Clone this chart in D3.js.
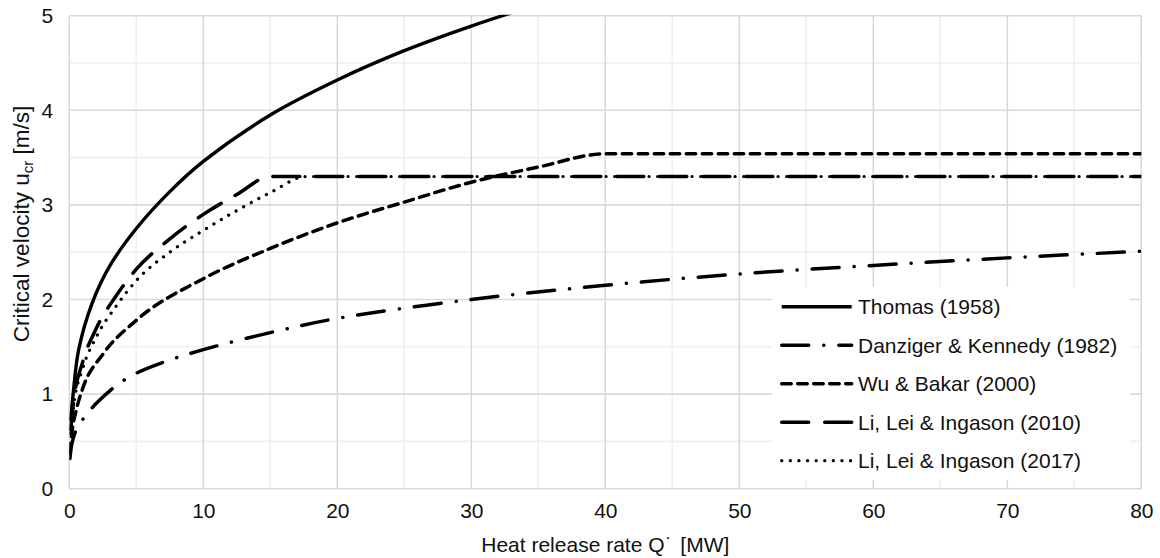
<!DOCTYPE html>
<html>
<head>
<meta charset="utf-8">
<script src="https://cdn.jsdelivr.net/npm/d3@7"></script>
<style>
  html, body { margin: 0; padding: 0; background: #fff; }
  svg { display: block; font-family: "Liberation Sans", Arial, sans-serif; }
</style>
</head>
<body>
<svg id="chart" width="1160" height="558"></svg>
<script>
// Critical velocity correlations vs. heat release rate
const seriesNames = [
  "Thomas (1958)",
  "Danziger & Kennedy (1982)",
  "Wu & Bakar (2000)",
  "Li, Lei & Ingason (2010)",
  "Li, Lei & Ingason (2017)"
];

const thomasQ = [0.1, 0.3, 0.7, 1.7, 3, 5, 7.5, 10, 15, 20, 25, 30, 35];
const thomasU = [0.72, 1.02, 1.47, 1.96, 2.35, 2.75, 3.14, 3.46, 3.95, 4.32, 4.63, 4.89, 5.12];

const dkQ = [0.05, 0.2, 0.57, 1.27, 2, 3.5, 5, 7.5, 10, 15, 20, 30, 40, 50, 60, 70, 80];
const dkU = [0.32, 0.48, 0.64, 0.78, 0.9, 1.09, 1.22, 1.36, 1.47, 1.65, 1.8, 2.0, 2.15, 2.27, 2.36, 2.44, 2.51];

const wuQ = [0.05, 0.2, 0.5, 1, 2.5, 5, 10, 15, 20, 25, 30, 35, 40, 80];
const wuU = [0.38, 0.6, 0.82, 1.06, 1.42, 1.78, 2.22, 2.54, 2.81, 3.03, 3.24, 3.4, 3.54, 3.54];

const li10Q = [0.1, 0.3, 1, 2, 3.5, 5, 7.5, 10, 12.5, 15, 80];
const li10U = [0.62, 0.9, 1.34, 1.69, 2.04, 2.32, 2.64, 2.9, 3.11, 3.3, 3.3];

const li17Q = [0.1, 0.3, 1, 2, 3.5, 5, 7.5, 10, 12.5, 15, 17.7, 80];
const li17U = [0.58, 0.85, 1.27, 1.6, 1.93, 2.2, 2.5, 2.73, 2.94, 3.13, 3.3, 3.3];

const xTicks = [0, 10, 20, 30, 40, 50, 60, 70, 80];
const yTicks = [0, 1, 2, 3, 4, 5];
const xMinor = [5, 15, 25, 35, 45, 55, 65, 75];
const yMinor = [0.5, 1.5, 2.5, 3.5, 4.5];

// line styles per series (solid, long dash-dot, short dash, long dash, round dot)
const styles = [
  { width: 3.4, dash: null, curve: d3.curveCatmullRom.alpha(0.5) },
  { width: 3.5, dash: "27,15,0.1,15", curve: d3.curveCatmullRom.alpha(0.5) },
  { width: 3.5, dash: "9.5,6.5", curve: d3.curveMonotoneX },
  { width: 3.5, dash: "27,16", curve: d3.curveMonotoneX },
  { width: 3.2, dash: "0.1,8.5", curve: d3.curveMonotoneX }
];

const series = [
  thomasQ.map((q, i) => ({ q, u: thomasU[i] })),
  dkQ.map((q, i) => ({ q, u: dkU[i] })),
  wuQ.map((q, i) => ({ q, u: wuU[i] })),
  li10Q.map((q, i) => ({ q, u: li10U[i] })),
  li17Q.map((q, i) => ({ q, u: li17U[i] }))
];

const svg = d3.select("#chart");
const plotL = 69.3, plotR = 1141.3, plotT = 15.7, plotB = 488.7;
const fontSize = 21;
const textColor = "#111";

const x = d3.scaleLinear().domain([0, 80]).range([plotL, plotR]);
const y = d3.scaleLinear().domain([0, 5]).range([plotB, plotT]);

svg.append("rect").attr("width", 1160).attr("height", 558).attr("fill", "#fff");

// gridlines: minor first, then major on top
const grid = svg.append("g");
grid.selectAll(".xmin").data(xMinor).join("line")
  .attr("x1", d => x(d)).attr("x2", d => x(d)).attr("y1", plotT).attr("y2", plotB)
  .attr("stroke", "#efefef").attr("stroke-width", 1.6);
grid.selectAll(".ymin").data(yMinor).join("line")
  .attr("y1", d => y(d)).attr("y2", d => y(d)).attr("x1", plotL).attr("x2", plotR)
  .attr("stroke", "#efefef").attr("stroke-width", 1.6);
grid.selectAll(".xmaj").data(xTicks).join("line")
  .attr("x1", d => x(d)).attr("x2", d => x(d)).attr("y1", plotT).attr("y2", plotB)
  .attr("stroke", "#d9d9d9").attr("stroke-width", 1.6);
grid.selectAll(".ymaj").data(yTicks).join("line")
  .attr("y1", d => y(d)).attr("y2", d => y(d)).attr("x1", plotL).attr("x2", plotR)
  .attr("stroke", "#d9d9d9").attr("stroke-width", 1.6);

// axes (labels only, lines come from the grid)
const xAxis = d3.axisBottom(x).tickValues(xTicks).tickFormat(d3.format("d")).tickSize(0).tickPadding(0);
svg.append("g").attr("transform", `translate(0,${plotB + 14})`).call(xAxis)
  .call(g => g.select(".domain").remove())
  .call(g => g.selectAll("text").attr("font-size", fontSize).attr("fill", textColor)
    .attr("font-family", "Liberation Sans, Arial, sans-serif"));

const yAxis = d3.axisLeft(y).tickValues(yTicks).tickFormat(d3.format("d")).tickSize(0).tickPadding(0);
svg.append("g").attr("transform", `translate(${plotL - 16},0)`).call(yAxis)
  .call(g => g.select(".domain").remove())
  .call(g => g.selectAll("text").attr("font-size", fontSize).attr("fill", textColor)
    .attr("font-family", "Liberation Sans, Arial, sans-serif"));

// clip curves to the plot area
svg.append("clipPath").attr("id", "plotClip")
  .append("rect").attr("x", plotL).attr("y", plotT - 1).attr("width", plotR - plotL).attr("height", plotB - plotT + 2);

const curves = svg.append("g").attr("clip-path", "url(#plotClip)");
series.forEach((s, i) => {
  const line = d3.line().x(d => x(d.q)).y(d => y(d.u)).curve(styles[i].curve);
  curves.append("path").datum(s)
    .attr("d", line)
    .attr("fill", "none")
    .attr("stroke", "#000")
    .attr("stroke-width", styles[i].width)
    .attr("stroke-linecap", styles[i].dash ? "round" : "butt")
    .attr("stroke-dasharray", styles[i].dash);
});

// legend
const legend = svg.append("g");
legend.append("rect").attr("x", 772).attr("y", 287).attr("width", 358).attr("height", 193).attr("fill", "#fff");
const rowY = i => 306.7 + i * 38.5;
seriesNames.forEach((name, i) => {
  legend.append("line")
    .attr("x1", 781.7).attr("x2", 851.7).attr("y1", rowY(i)).attr("y2", rowY(i))
    .attr("stroke", "#000")
    .attr("stroke-width", styles[i].width)
    .attr("stroke-linecap", styles[i].dash ? "round" : "butt")
    .attr("stroke-dasharray", styles[i].dash);
  legend.append("text")
    .attr("x", 858).attr("y", rowY(i)).attr("dy", "0.35em")
    .attr("font-size", fontSize).attr("fill", textColor)
    .text(name);
});

// axis titles
const xTitle = svg.append("text")
  .attr("x", (plotL + plotR) / 2).attr("y", 552)
  .attr("text-anchor", "middle").attr("font-size", fontSize).attr("fill", textColor);
xTitle.append("tspan").text("Heat release rate Q");
xTitle.append("tspan").text("\u02D9").attr("dx", 1);
xTitle.append("tspan").text(" [MW]").attr("dx", 2);

const yTitle = svg.append("text")
  .attr("transform", "translate(29,224) rotate(-90)")
  .attr("text-anchor", "middle").attr("font-size", 22.5).attr("fill", textColor);
yTitle.append("tspan").text("Critical velocity u");
yTitle.append("tspan").text("cr").attr("font-size", 15).attr("dy", 4);
yTitle.append("tspan").text(" [m/s]").attr("dy", -4);
</script>
</body>
</html>
